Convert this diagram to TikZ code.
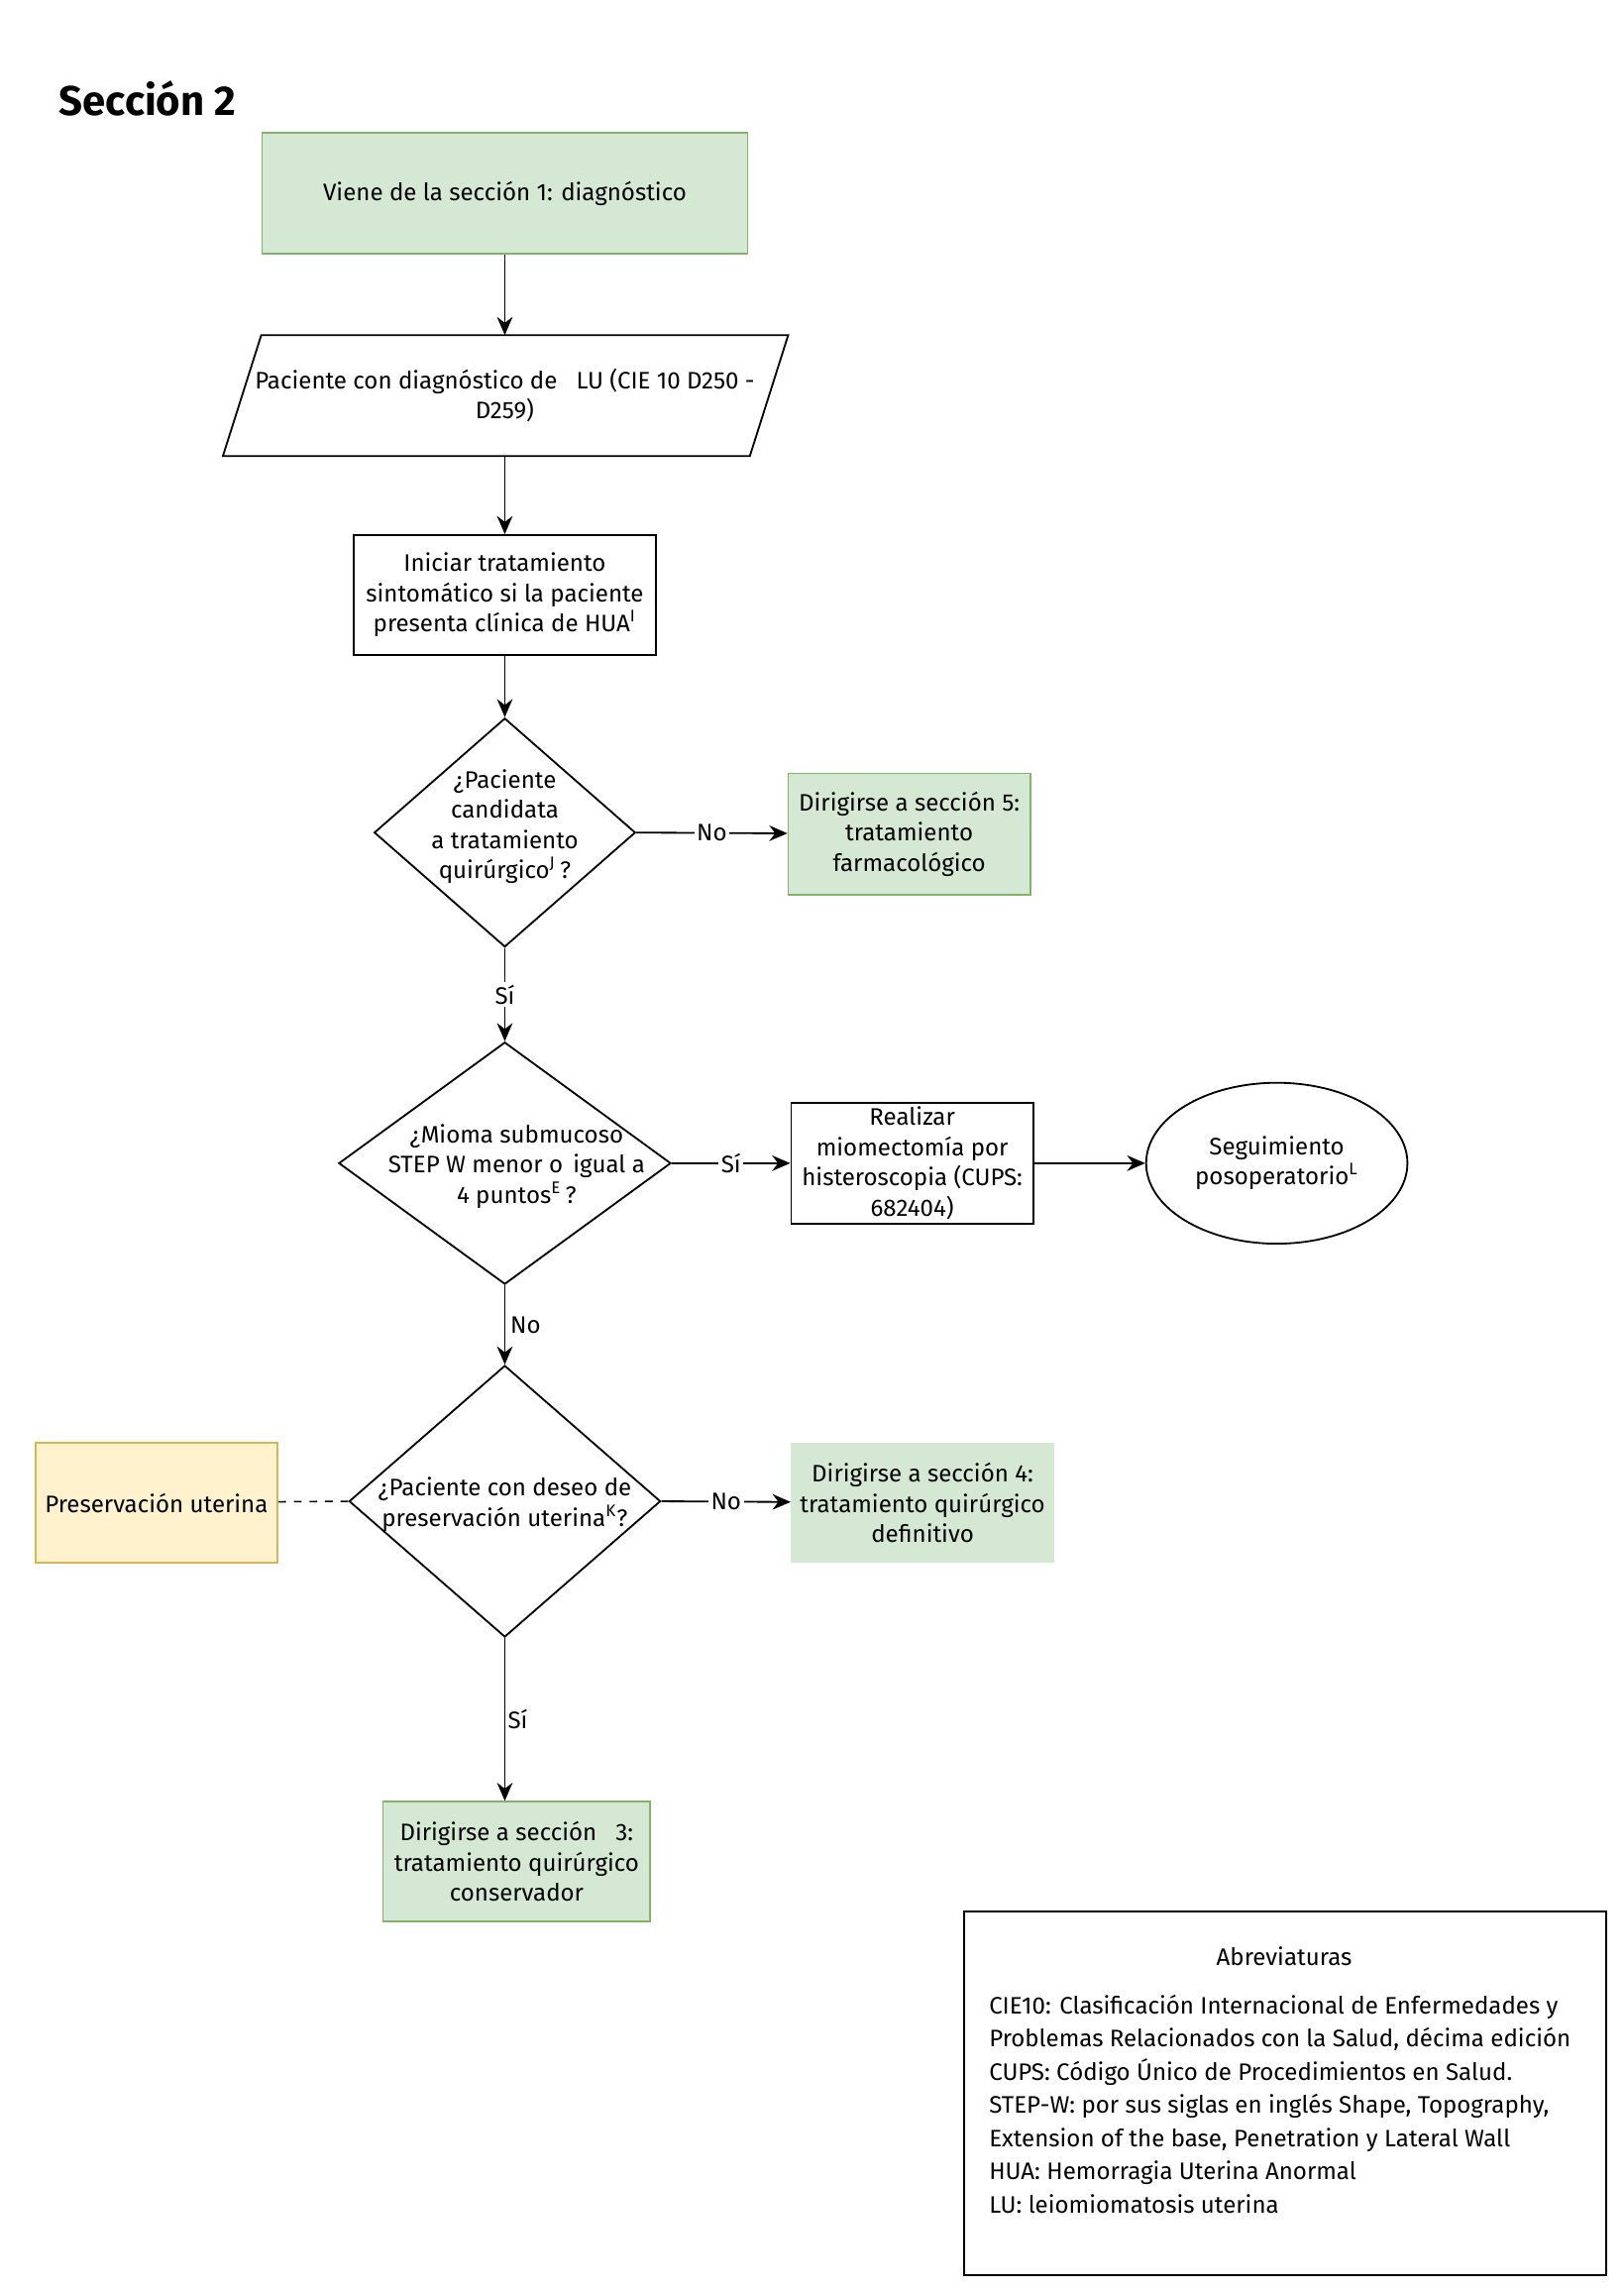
\documentclass[tikz,border=0pt]{standalone}
\usepackage{fontspec}
\setmainfont{Fira Sans}
\usetikzlibrary{shapes.geometric,arrows.meta}
\begin{document}
\begin{tikzpicture}[x=0.02cm,y=-0.02cm,
  every node/.style={font=\fontsize{9.2}{11.6}\selectfont, align=center, inner sep=1pt},
  gbox/.style={draw=gcol, fill=gfill, line width=0.6pt, align=center},
  box/.style={draw, line width=0.7pt},
  dia/.style={diamond, draw, line width=0.7pt, inner sep=0pt},
  arr/.style={-{Stealth[length=7pt,width=6pt]}, line width=0.7pt},
  lab/.style={fill=white, inner sep=1pt}]
\definecolor{gfill}{HTML}{D5E8D4}\definecolor{gcol}{HTML}{82B366}
\definecolor{yfill}{HTML}{FFF2CC}\definecolor{ycol}{HTML}{D6B656}
\useasboundingbox (0,0) rectangle (1100,1552);
\node[anchor=west, font=\fontsize{16}{18}\selectfont\bfseries] (t) at (38,67) {Sección 2};
\node[gbox, minimum width=329*0.02cm, minimum height=82*0.02cm] (a) at (342,131) {Viene de la sección 1: diagnóstico};
\draw[line width=0.7pt] (177,227) -- (534,227) -- (508,309) -- (151,309) -- cycle;
\node[minimum width=357*0.02cm, minimum height=82*0.02cm] (b) at (342,268) {Paciente con diagnóstico de\ \ \ LU (CIE 10 D250 -\\D259)};
\node[box, minimum width=205*0.02cm, minimum height=81*0.02cm] (c) at (342,403) {Iniciar tratamiento\\sintomático si la paciente\\presenta clínica de HUA$^{\mathrm{I}}$};
\node[dia, minimum width=177*0.02cm, minimum height=155*0.02cm] (d1) at (342,564) {};
\node at (342,560) {¿Paciente\\candidata\\a tratamiento\\quirúrgico$^{\mathrm{J}}$\,?};
\node[gbox, minimum width=164*0.02cm, minimum height=82*0.02cm] (s5) at (616,565) {Dirigirse a sección 5:\\tratamiento\\farmacológico};
\node[dia, minimum width=225*0.02cm, minimum height=164*0.02cm] (d2) at (342,788) {};
\node at (350,790) {¿Mioma submucoso\\STEP W menor o\, igual a\\4 puntos$^{\mathrm{E}}$\,?};
\node[box, minimum width=164*0.02cm, minimum height=82*0.02cm] (m) at (618,788) {Realizar\\miomectomía por\\histeroscopia (CUPS:\\682404)};
\node[ellipse, draw, line width=0.7pt, minimum width=177*0.02cm, minimum height=109*0.02cm] (e) at (865,788) {Seguimiento\\posoperatorio$^{\mathrm{L}}$};
\node[dia, minimum width=211*0.02cm, minimum height=184*0.02cm] (d3) at (342,1017) {};
\node at (342,1019) {¿Paciente con deseo de\\preservación uterina$^{\mathrm{K}}$?};
\node[draw=ycol, fill=yfill, line width=0.6pt, minimum width=164*0.02cm, minimum height=81*0.02cm] (y) at (106,1018) {Preservación uterina};
\node[fill=gfill, minimum width=178*0.02cm, minimum height=81*0.02cm] (s4) at (625,1018) {Dirigirse a sección 4:\\tratamiento quirúrgico\\definitivo};
\node[gbox, minimum width=181*0.02cm, minimum height=81*0.02cm] (s3) at (350,1261) {Dirigirse a sección\ \ \ 3:\\tratamiento quirúrgico\\conservador};
\draw[arr] (a) -- (342,227);
\draw[arr] (342,309) -- (c);
\draw[arr] (c) -- (d1);
\draw[arr] (d1.east) -- node[lab]{No} (s5);
\draw[arr] (d1.south) -- node[lab, pos=0.5]{Sí} (d2.north);
\draw[arr] (d2.east) -- node[lab]{Sí} (m);
\draw[arr] (m) -- (e);
\draw[arr] (d2.south) -- node[lab, xshift=8pt]{No} (d3.north);
\draw[arr] (d3.east) -- node[lab]{No} (s4);
\draw[arr] (d3.south) -- node[lab, xshift=5pt]{Sí} (s3.north -| d3.south);
\draw[dashed, line width=0.6pt] (y) -- (d3.west);
\node[box, minimum width=435*0.02cm, minimum height=246*0.02cm] (ab) at (870.5,1418) {};
\node (abt) at (870,1325) {Abreviaturas};
\node[anchor=north west, align=left, font=\fontsize{9.2}{12.8}\selectfont] (abx) at (668,1349) {CIE10: Clasificación Internacional de Enfermedades y\\Problemas Relacionados con la Salud, décima edición\\CUPS: Código Único de Procedimientos en Salud.\\STEP-W: por sus siglas en inglés Shape, Topography,\\Extension of the base, Penetration y Lateral Wall\\HUA: Hemorragia Uterina Anormal\\LU: leiomiomatosis uterina};
\end{tikzpicture}
\end{document}
